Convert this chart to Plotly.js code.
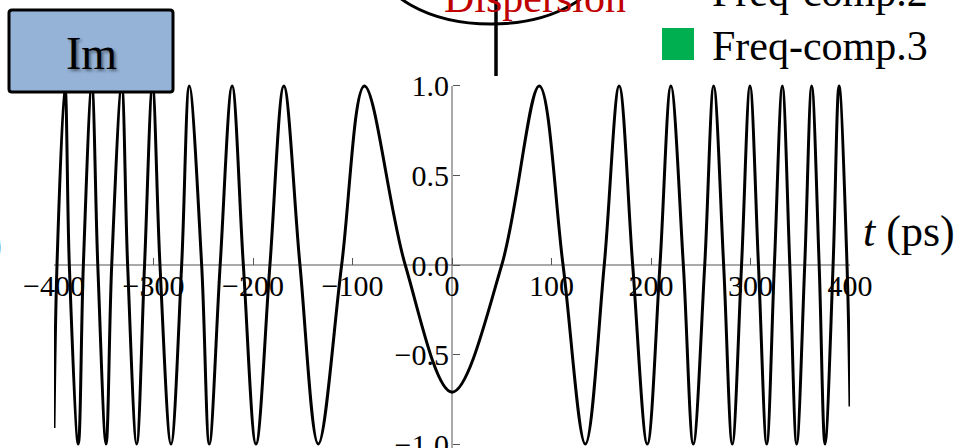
<!DOCTYPE html>
<html><head><meta charset="utf-8">
<script src="https://cdn.plot.ly/plotly-3.0.1.min.js"></script>
<style>html,body{margin:0;padding:0;background:#fff;overflow:hidden}#chart{width:960px;height:448px}</style>
</head><body><div id="chart"></div>
<script>
// Curve samples: start/end, extrema and zero crossings (t in ps)
const tPoints = [-400, -397, -389, -384.6, -375.6, -370.5, -362, -356, -347.7, -342, -332, -326, -316.9, -309, -301, -293.5, -282.4, -271.7, -264, -251.6, -243.9, -233, -221, -209.7, -197, -183, -169, -152.8, -134.4, -110.9, -88, -47, 0, 50, 87.7, 111.6, 134, 153, 168, 181.6, 196.3, 209, 220, 232.5, 242.5, 254, 263, 273, 281.7, 291, 299.5, 308, 316.3, 324, 332, 339.5, 346.4, 354.5, 361.5, 369, 374.9, 383, 389, 397, 400];
const yPoints = [-0.91, 0, 1, 0, -1, 0, 1, 0, -1, 0, 1, 0, -1, 0, 1, 0, -1, 0, 1, 0, -1, 0, 1, 0, -1, 0, 1, 0, -1, 0, 1, 0, -0.71, 0, 1, 0, -1, 0, 1, 0, -1, 0, 1, 0, -1, 0, 1, 0, -1, 0, 1, 0, -1, 0, 1, 0, -1, 0, 1, 0, -1, 0, 1, 0, -0.79];
const xTickVals = [-400, -300, -200, -100, 0, 100, 200, 300, 400];
const yTickVals = [-1.0, -0.5, 0.0, 0.5, 1.0];
const legendLabels = ['Freq-comp.2', 'Freq-comp.3'];
const boxLabel = 'Im';
const noteLabel = 'Dispersion';
const axisLabel = '<i>t</i> (ps)';
const edgeLabel = ')';

const W = 960, H = 448, L = 54, R = 110, T = 77, B = 0;
const xRange = [-400, 400], yRange = [-1.022, 1.05];
const pw = W - L - R, ph = H - T - B;
const px = x => (x - L) / pw;
const py = y => (H - B - y) / ph;
const serif = 'Liberation Serif, Times New Roman, serif';
const axisCol = '#555';

// rounded rectangle path in paper coordinates (pixel inputs)
function roundRect(x0, y0, x1, y1, r) {
  const P = (x, y) => px(x) + ',' + py(y);
  return 'M' + P(x0 + r, y0) + ' L' + P(x1 - r, y0) + ' Q' + P(x1, y0) + ' ' + P(x1, y0 + r) +
    ' L' + P(x1, y1 - r) + ' Q' + P(x1, y1) + ' ' + P(x1 - r, y1) +
    ' L' + P(x0 + r, y1) + ' Q' + P(x0, y1) + ' ' + P(x0, y1 - r) +
    ' L' + P(x0, y0 + r) + ' Q' + P(x0, y0) + ' ' + P(x0 + r, y0) + ' Z';
}

const trace = {
  x: tPoints, y: yPoints, type: 'scatter', mode: 'lines',
  line: {color: '#000', width: 3, shape: 'spline', smoothing: 1},
  hoverinfo: 'skip', showlegend: false
};

const xPos = (0 - yRange[0]) / (yRange[1] - yRange[0]);

const layout = {
  width: W, height: H,
  margin: {l: L, r: R, t: T, b: B, pad: 0},
  paper_bgcolor: '#fff', plot_bgcolor: 'rgba(0,0,0,0)',
  showlegend: false,
  xaxis: {
    range: xRange, anchor: 'free', position: xPos, showline: false, zeroline: false, showgrid: false,
    ticks: 'inside', ticklen: 7, tickwidth: 1, tickcolor: axisCol,
    tickvals: xTickVals, tickfont: {family: serif, size: 30, color: '#000'},
    ticklabeloverflow: 'allow', layer: 'below traces', automargin: false, fixedrange: true
  },
  yaxis: {
    range: yRange, anchor: 'free', position: 0.5, side: 'left', showline: false, zeroline: false, showgrid: false,
    ticks: 'inside', ticklen: 7, tickwidth: 1, tickcolor: axisCol,
    tickvals: yTickVals, tickformat: '.1f', tickfont: {family: serif, size: 30, color: '#000'},
    ticklabelstandoff: 3, ticklabeloverflow: 'allow', layer: 'below traces', automargin: false, fixedrange: true
  },
  shapes: [
    // axis lines through the origin
    {type: 'line', xref: 'x', yref: 'y', x0: xTickVals[0], x1: xTickVals[xTickVals.length - 1], y0: 0, y1: 0,
     line: {color: axisCol, width: 1}, layer: 'below'},
    {type: 'line', xref: 'x', yref: 'y', x0: 0, x1: 0, y0: yRange[0], y1: yTickVals[yTickVals.length - 1],
     line: {color: axisCol, width: 1}, layer: 'below'},
    // Im box
    {type: 'path', xref: 'paper', yref: 'paper', path: roundRect(9, 10, 173, 92, 3),
     fillcolor: '#95B3D7', line: {color: '#000', width: 3}},
    // ellipse
    {type: 'circle', xref: 'paper', yref: 'paper', x0: px(378), x1: px(604), y0: py(24), y1: py(-104),
     line: {color: '#000', width: 3}},
    // vertical stick
    {type: 'line', xref: 'paper', yref: 'paper', x0: px(496), x1: px(496), y0: py(0), y1: py(76),
     line: {color: '#000', width: 3.5}},
    // legend square
    {type: 'rect', xref: 'paper', yref: 'paper', x0: px(662), x1: px(694), y0: py(60), y1: py(28),
     fillcolor: '#00B050', line: {width: 0}}
  ],
  annotations: [
    {text: boxLabel, xref: 'paper', yref: 'paper', x: px(91), y: py(54), xanchor: 'center', yanchor: 'middle',
     showarrow: false, font: {family: serif, size: 46, color: '#000', shadow: '2px 2px 3px rgba(0,0,0,0.45)'}},
    {text: noteLabel, xref: 'paper', yref: 'paper', x: px(535), y: py(-2), xanchor: 'center', yanchor: 'middle',
     showarrow: false, font: {family: serif, size: 42, color: '#C00000'}},
    {text: legendLabels[0], xref: 'paper', yref: 'paper', x: px(710), y: py(-8), xanchor: 'left', yanchor: 'middle',
     showarrow: false, font: {family: serif, size: 42, color: '#000'}},
    {text: legendLabels[1], xref: 'paper', yref: 'paper', x: px(710), y: py(46), xanchor: 'left', yanchor: 'middle',
     showarrow: false, font: {family: serif, size: 42, color: '#000'}},
    {text: axisLabel, xref: 'paper', yref: 'paper', x: px(909), y: py(232), xanchor: 'center', yanchor: 'middle',
     showarrow: false, font: {family: serif, size: 44, color: '#000'}},
    {text: edgeLabel, xref: 'paper', yref: 'paper', x: px(4), y: py(244), xanchor: 'right', yanchor: 'middle',
     showarrow: false, font: {family: serif, size: 42, color: '#000'}}
  ]
};

Plotly.newPlot('chart', [trace], layout, {staticPlot: true, displayModeBar: false});
</script>
</body></html>
